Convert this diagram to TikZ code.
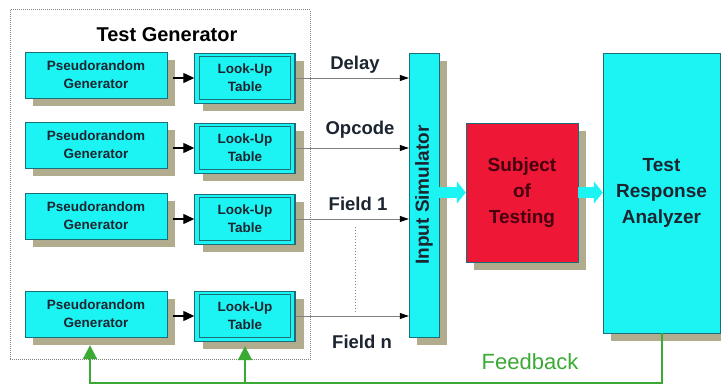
\documentclass[tikz,border=0pt]{standalone}
\usepackage{fontspec}
\setmainfont{Liberation Sans}
\usetikzlibrary{
    arrows.meta,
    shadows,
    positioning
}
\definecolor{boxcyan}{HTML}{1CF4F4}
\definecolor{boxred}{HTML}{EE1836}
\definecolor{shadowtan}{HTML}{B2AC8E}
\definecolor{fbgreen}{HTML}{3AAA35}
\definecolor{edgeteal}{HTML}{1A6E78}
\definecolor{textdark}{HTML}{1C2530}

\tikzset{
    shadowed/.style={drop shadow={shadow xshift=8pt, shadow yshift=-8pt, fill=shadowtan, opacity=1}},
    genbox/.style={draw=edgeteal, fill=boxcyan, shadowed, minimum width=142pt, minimum height=46pt,
        inner sep=0pt, align=center, text=textdark, font=\fontsize{13.5}{18}\selectfont\bfseries},
    lutbox/.style={draw=edgeteal, fill=boxcyan, shadowed,
        minimum width=101pt, minimum height=50pt, inner sep=0pt, align=center, text=textdark,
        font=\fontsize{13.5}{18}\selectfont\bfseries},
    bigbox/.style={draw=edgeteal, fill=boxcyan, shadowed, inner sep=0pt, align=center,
        text=textdark, font=\fontsize{19}{26}\selectfont\bfseries},
    label/.style={text=textdark, font=\fontsize{18.5}{20}\selectfont\bfseries},
    genarrow/.style={line width=1.3pt, -{Triangle[length=11pt,width=10pt]}, shorten <=6pt},
    feed/.style={draw=gray, line width=0.8pt, -{Triangle[length=9pt,width=6pt,black]}},
    blockarrow/.style={draw=boxcyan, line width=11pt, -{Triangle[length=9pt,width=22pt]}},
    fb/.style={draw=fbgreen, line width=2pt},
    fbarrow/.style={fb, -{Triangle[length=14pt,width=14pt]}}
}

\begin{document}
\begin{tikzpicture}[x=1pt, y=-1pt]
    \useasboundingbox (0,0) rectangle (721,387);

    % test generator
    \draw[densely dotted, gray, line width=1pt] (10,10) rectangle (310,360);
    \node (title) at (167,35) {\fontsize{20}{22}\selectfont\bfseries Test Generator};

    \node[genbox] (gen1) at (96,75) {Pseudorandom\\Generator};
    \node[genbox] (gen2) at (96,145) {Pseudorandom\\Generator};
    \node[genbox] (gen3) at (96,216) {Pseudorandom\\Generator};
    \node[genbox] (gen4) at (96,314) {Pseudorandom\\Generator};

    \node[lutbox] (lut1) at (245,78) {Look-Up\\Table};
    \node[lutbox] (lut2) at (245,148) {Look-Up\\Table};
    \node[lutbox] (lut3) at (245,219) {Look-Up\\Table};
    \node[lutbox] (lut4) at (245,316) {Look-Up\\Table};

    \foreach \i in {1,...,4} {
        \draw[edgeteal, line width=0.8pt] ([shift={(5pt,4pt)}]lut\i.south west) rectangle ([shift={(-5pt,-4pt)}]lut\i.north east);
        \draw[edgeteal] ([xshift=-2pt]lut\i.north east) -- ([xshift=-2pt]lut\i.south east);
        \draw[genarrow] (gen\i.east |- lut\i.west) -- (lut\i.west);
    }

    % right part
    \node[bigbox, rotate=90, minimum width=284pt, minimum height=30pt] (is) at (424,195) {Input Simulator};
    \node[bigbox, fill=boxred, text={rgb,255:red,70;green,0;blue,16}, minimum width=112pt, minimum height=139pt] (sot) at (522,192.5) {Subject\\of\\Testing};
    \node[bigbox, minimum width=117pt, minimum height=280pt] (tra) at (661.5,193) {Test\\Response\\Analyzer};

    % is.north is the left side, is.south the right side
    \foreach \i in {1,...,4}
        \draw[feed] (lut\i.east) -- (lut\i.east -| is.north);

    \node[label] (delay) at (355,65) {Delay};
    \node[label] (opcode) at (360,130) {Opcode};
    \node[label] (field1) at (358,204) {Field 1};
    \node[label] (fieldn) at (362,342) {Field n};
    \draw[dotted, gray, line width=1pt] (355,227) -- (355,312);

    \draw[blockarrow] (is.south |- sot.west) -- (sot.west);
    \draw[blockarrow] (sot.east) -- (sot.east -| tra.west);

    % feedback
    \coordinate (fbline) at (0,383);
    \draw[fbarrow] (tra.south) -- (tra.south |- fbline) -| ([xshift=-6pt,yshift=-8pt]gen4.south);
    \draw[fbarrow] (lut4.south |- fbline) -- ([yshift=-5pt]lut4.south);
    \node[text=fbgreen, font=\fontsize{22}{24}\selectfont] (feedback) at (530,362) {Feedback};
\end{tikzpicture}
\end{document}
